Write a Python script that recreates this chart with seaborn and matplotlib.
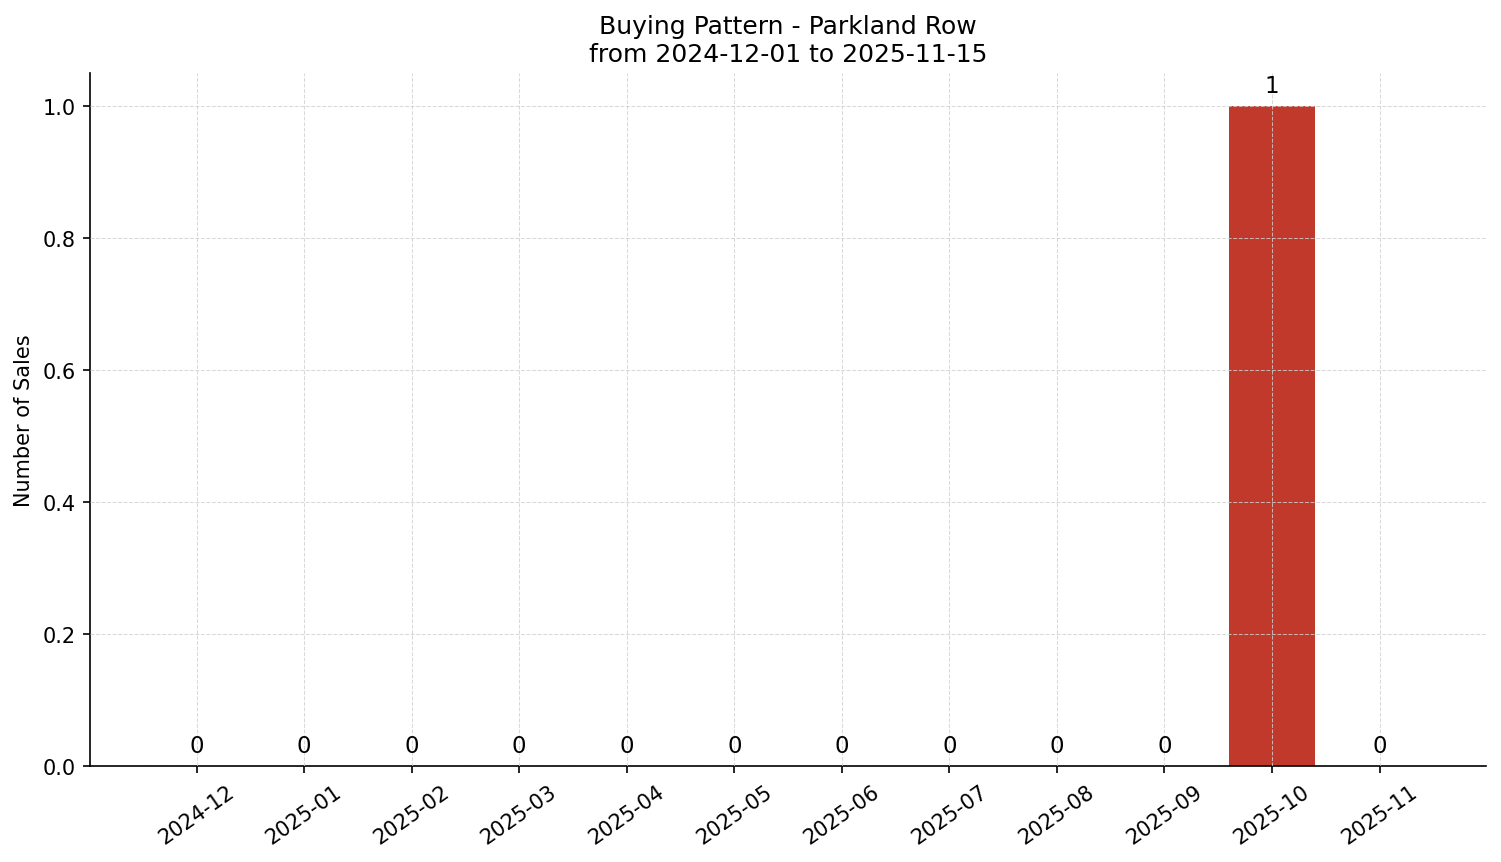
import matplotlib
matplotlib.use("Agg")
import matplotlib.pyplot as plt
import seaborn as sns
import pandas as pd

months = ["2024-12", "2025-01", "2025-02", "2025-03", "2025-04", "2025-05",
          "2025-06", "2025-07", "2025-08", "2025-09", "2025-10", "2025-11"]
sales = [0, 0, 0, 0, 0, 0, 0, 0, 0, 0, 1, 0]

df = pd.DataFrame({"month": months, "sales": sales})

sns.set_style("ticks")
plt.rcParams['font.family'] = ['DejaVu Sans']
plt.rcParams['text.color'] = 'black'
plt.rcParams['axes.labelcolor'] = 'black'
plt.rcParams['xtick.color'] = 'black'
plt.rcParams['ytick.color'] = 'black'
plt.rcParams['axes.edgecolor'] = 'black'

fig, ax = plt.subplots(figsize=(10.007, 5.753), dpi=150)
fig.subplots_adjust(left=0.06, right=0.99, top=0.914, bottom=0.111)

sns.barplot(data=df, x="month", y="sales", color="#c0392b", width=0.8,
            saturation=1, linewidth=0, ax=ax, zorder=2)

# value labels above each bar
for i, v in enumerate(sales):
    ax.text(i, v + 0.014, str(v), ha="center", va="bottom", fontsize=11)

ax.set_xlim(-0.99, 11.99)
ax.set_ylim(0, 1.05)
ax.set_axisbelow(False)
ax.grid(True, linestyle="--", linewidth=0.5, color="#d0d0d0", alpha=0.8, zorder=3)
sns.despine(ax=ax)

ax.set_title("Buying Pattern - Parkland Row\nfrom 2024-12-01 to 2025-11-15", fontsize=12)
ax.set_xlabel("")
ax.set_ylabel("Number of Sales", fontsize=10)
ax.tick_params(axis="both", labelsize=10)
plt.setp(ax.get_xticklabels(), rotation=35, ha="center")

fig.savefig("out.png", dpi=150)
